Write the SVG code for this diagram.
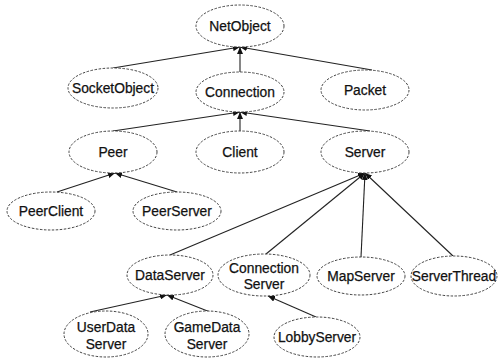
<svg xmlns="http://www.w3.org/2000/svg" width="498" height="359" viewBox="0 0 498 359">
<style>
.n ellipse{fill:#fff;stroke:#444;stroke-width:1;stroke-dasharray:2.5 1.5}
.n text{font-family:"Liberation Sans",Arial,sans-serif;font-size:13.8px;fill:#111;stroke:#111;stroke-width:0.25;text-anchor:middle;dominant-baseline:central}
.c line{stroke:#222;stroke-width:1.1;marker-end:url(#ah)}
</style>
<defs>
<marker id="ah" markerUnits="userSpaceOnUse" markerWidth="7" markerHeight="6" refX="7" refY="3" orient="auto">
<path d="M0,0 L7,3 L0,6 z" fill="#111"/>
</marker>
</defs>
<rect width="498" height="359" fill="#fff"/>
<g class="c" id="connectors">
<line x1="113" y1="68" x2="240" y2="47"/>
<line x1="240" y1="72" x2="240" y2="47"/>
<line x1="372" y1="70" x2="240" y2="47"/>
<line x1="113" y1="131" x2="240" y2="112"/>
<line x1="240" y1="131" x2="240" y2="112"/>
<line x1="370" y1="131" x2="240" y2="112"/>
<line x1="57" y1="192" x2="115" y2="173"/>
<line x1="177" y1="192" x2="115" y2="173"/>
<line x1="170" y1="255" x2="365" y2="173"/>
<line x1="266" y1="254" x2="365" y2="173"/>
<line x1="361" y1="257" x2="365" y2="173"/>
<line x1="453" y1="256" x2="365" y2="173"/>
<line x1="90" y1="312" x2="167" y2="295"/>
<line x1="210" y1="312" x2="167" y2="295"/>
<line x1="316" y1="317" x2="268" y2="296"/>
</g>
<g class="n" id="NetObject"><ellipse cx="240" cy="26" rx="44" ry="21"/><text x="240" y="26">NetObject</text></g>
<g class="n" id="SocketObject"><ellipse cx="113" cy="88" rx="45" ry="20"/><text x="113" y="88">SocketObject</text></g>
<g class="n" id="Connection"><ellipse cx="240" cy="92" rx="44" ry="20"/><text x="240" y="92">Connection</text></g>
<g class="n" id="Packet"><ellipse cx="365" cy="90" rx="44" ry="20"/><text x="365" y="90">Packet</text></g>
<g class="n" id="Peer"><ellipse cx="113" cy="152" rx="44" ry="21"/><text x="113" y="152">Peer</text></g>
<g class="n" id="Client"><ellipse cx="240" cy="152" rx="44" ry="21"/><text x="240" y="152">Client</text></g>
<g class="n" id="Server"><ellipse cx="365" cy="152" rx="44" ry="21"/><text x="365" y="152">Server</text></g>
<g class="n" id="PeerClient"><ellipse cx="51" cy="211" rx="44" ry="19"/><text x="51" y="211">PeerClient</text></g>
<g class="n" id="PeerServer"><ellipse cx="177" cy="211" rx="44" ry="19"/><text x="177" y="211">PeerServer</text></g>
<g class="n" id="DataServer"><ellipse cx="170" cy="275" rx="43" ry="20"/><text x="170" y="275">DataServer</text></g>
<g class="n" id="ConnectionServer"><ellipse cx="264" cy="275" rx="46" ry="21"/><text x="264" y="268">Connection</text><text x="264" y="284">Server</text></g>
<g class="n" id="MapServer"><ellipse cx="361" cy="276" rx="44" ry="19"/><text x="361" y="276">MapServer</text></g>
<g class="n" id="ServerThread"><ellipse cx="454" cy="276" rx="43" ry="20"/><text x="454" y="276">ServerThread</text></g>
<g class="n" id="UserDataServer"><ellipse cx="106" cy="334" rx="42" ry="23"/><text x="106" y="327">UserData</text><text x="106" y="344">Server</text></g>
<g class="n" id="GameDataServer"><ellipse cx="207" cy="334" rx="42" ry="23"/><text x="207" y="327">GameData</text><text x="207" y="344">Server</text></g>
<g class="n" id="LobbyServer"><ellipse cx="317" cy="337" rx="43" ry="20"/><text x="317" y="337">LobbyServer</text></g>
</svg>
